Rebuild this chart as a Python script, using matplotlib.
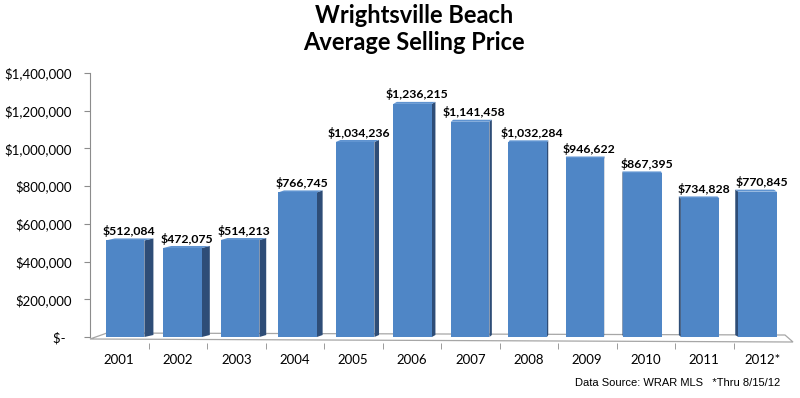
import numpy as np
import matplotlib
matplotlib.use("Agg")
import matplotlib.pyplot as plt
from matplotlib.patches import Polygon

years = ["2001", "2002", "2003", "2004", "2005", "2006", "2007", "2008",
         "2009", "2010", "2011", "2012*"]
prices = [512084, 472075, 514213, 766745, 1034236, 1236215, 1141458,
          1032284, 946622, 867395, 734828, 770845]
yticks = [0, 200000, 400000, 600000, 800000, 1000000, 1200000, 1400000]

front_col = '#4F86C6'
side_col = '#2E4D77'
top_col = '#5F93D0'
grey = '#8C8C8C'

fig = plt.figure(figsize=(8, 3.98), dpi=100)
ax = fig.add_axes([0.1125, 0.13904, 0.8775, 0.67754])
ax.set_xlim(-0.5, 11.5)
ax.set_ylim(-30000, 1400000)

# pixel -> data helpers (axes is 702 px wide for 12 slots, 264 px per 1.4M)
px_x = 12 / 702.0
px_y = 1400000 / 264.0

# floor
floor = Polygon([(-0.5, -2 * px_y), (-0.5 + 17 * px_x, 4 * px_y),
                 (11.5 - 7 * px_x, 2 * px_y), (11.5 + 1 * px_x, -5 * px_y)],
                closed=True, facecolor='white', edgecolor='#A6A6A6',
                lw=0.9, clip_on=False, zorder=1)
ax.add_patch(floor)

n = len(prices)
pos = 0.1 + 0.983 * np.arange(n)
width = 0.66
ax.bar(pos, prices, width=width, color=front_col, zorder=3)

for i, (x, v) in enumerate(zip(pos, prices)):
    side = (9 - 1.1 * i) * px_x
    dy = 2 * px_y
    if side >= 0:
        xe = x + width / 2
    else:
        xe = x - width / 2
    ax.add_patch(Polygon([(xe, 0), (xe, v), (xe + side, v + dy), (xe + side, dy)],
                         closed=True, facecolor=side_col, edgecolor='none', zorder=2))
    xl, xr = x - width / 2, x + width / 2
    ax.add_patch(Polygon([(xl, v), (xr, v), (xr + side, v + dy), (xl + side, v + dy)],
                         closed=True, facecolor=top_col, edgecolor='none', zorder=2))
    ax.annotate("${:,}".format(v), (x, v), xytext=(3, 2.5), textcoords='offset points',
                ha='center', va='bottom', fontsize=8.8, fontweight='bold',
                family='Lato', color='black')

for s in ['top', 'right', 'bottom']:
    ax.spines[s].set_visible(False)
ax.spines['left'].set_bounds(0, 1400000)
ax.spines['left'].set_color(grey)

ax.set_yticks(yticks)
ax.set_yticklabels(["$-  "] + ["${:,}".format(t) for t in yticks[1:]],
                   family='Lato', fontsize=9.5)
ax.tick_params(axis='y', direction='out', length=4, color=grey, pad=9)

ax.set_xticks(np.arange(n))
ax.set_xticklabels(years, family='Lato', fontsize=9.5)
ax.set_xticks(np.arange(n - 1) + 0.5, minor=True)
ax.tick_params(axis='x', which='major', length=0, pad=8)
ax.tick_params(axis='x', which='minor', length=4, color=grey, direction='out')

fig.text(414 / 800.0, 1 - 4 / 398.0, "Wrightsville Beach\nAverage Selling Price",
         ha='center', va='top', fontsize=17, fontweight='bold', family='Lato',
         linespacing=1.2)
fig.text(780 / 800.0, 1 - 383 / 398.0, "Data Source: WRAR MLS   *Thru 8/15/12",
         ha='right', va='center', fontsize=8, family='Liberation Sans')

fig.savefig("out.png", dpi=100)
